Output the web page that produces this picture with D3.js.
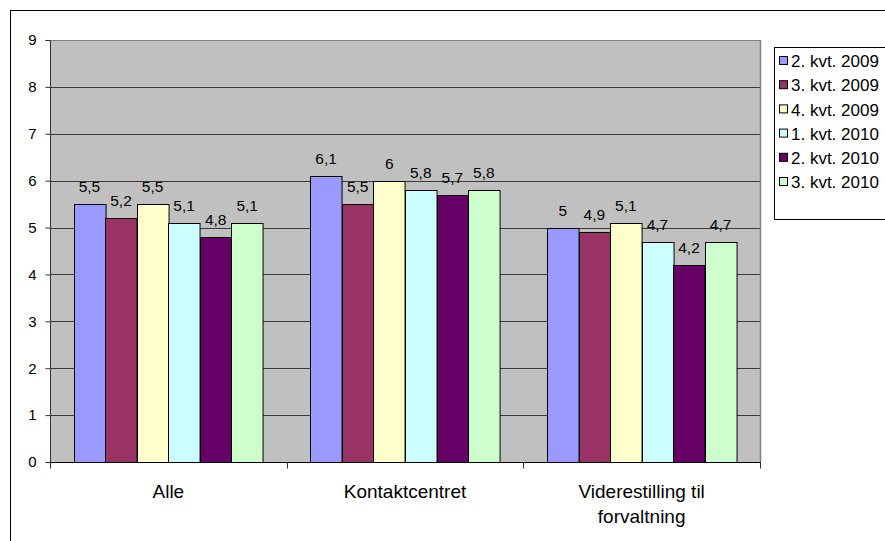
<!DOCTYPE html>
<html>
<head>
<meta charset="utf-8">
<script src="https://cdn.jsdelivr.net/npm/d3@7"></script>
<style>
html,body{margin:0;padding:0;background:#fff;}
svg{display:block;font-family:"Liberation Sans",Arial,sans-serif;}
</style>
</head>
<body>
<svg id="chart" width="885" height="541"></svg>
<script>
const categories = ["Alle", "Kontaktcentret", "Viderestilling til forvaltning"];
const categoryLines = [["Alle"], ["Kontaktcentret"], ["Viderestilling til", "forvaltning"]];
const seriesNames = ["2. kvt. 2009", "3. kvt. 2009", "4. kvt. 2009", "1. kvt. 2010", "2. kvt. 2010", "3. kvt. 2010"];
const seriesColors = ["#9999FF", "#993366", "#FFFFCC", "#CCFFFF", "#660066", "#CCFFCC"];
const values = [
  [5.5, 6.1, 5.0],
  [5.2, 5.5, 4.9],
  [5.5, 6.0, 5.1],
  [5.1, 5.8, 4.7],
  [4.8, 5.7, 4.2],
  [5.1, 5.8, 4.7]
];
const yTicks = [0, 1, 2, 3, 4, 5, 6, 7, 8, 9];

const svg = d3.select("#chart");
const plot = {left: 50, right: 760, top: 40, bottom: 462};

// outer chart frame (extends beyond picture)
svg.append("rect").attr("x", 10.5).attr("y", 10.5).attr("width", 1000).attr("height", 600)
  .attr("fill", "#fff").attr("stroke", "#000").attr("stroke-width", 1);

const x0 = d3.scaleBand().domain(categories).range([plot.left, plot.right]).paddingInner(0).paddingOuter(0);
const groupPad = 0.1;
const x1 = d3.scaleBand().domain(seriesNames)
  .range([x0.bandwidth() * groupPad, x0.bandwidth() * (1 - groupPad)]).padding(0);
const y = d3.scaleLinear().domain([0, 9]).range([plot.bottom, plot.top]);

// plot background
svg.append("rect").attr("x", plot.left).attr("y", plot.top)
  .attr("width", plot.right - plot.left).attr("height", plot.bottom - plot.top)
  .attr("fill", "#C0C0C0");

// gridlines
svg.append("g").selectAll("line").data(yTicks.filter(d => d > 0)).join("line")
  .attr("x1", plot.left).attr("x2", plot.right)
  .attr("y1", d => Math.round(y(d)) + 0.5).attr("y2", d => Math.round(y(d)) + 0.5)
  .attr("stroke", d => d === 9 ? "#808080" : "#3a3a3a").attr("stroke-width", 1);

// right border of plot
svg.append("line").attr("x1", plot.right + 0.5).attr("x2", plot.right + 0.5)
  .attr("y1", plot.top).attr("y2", plot.bottom).attr("stroke", "#808080").attr("stroke-width", 1.5);

// bars
const groups = svg.append("g").selectAll("g").data(seriesNames).join("g")
  .attr("fill", (d, i) => seriesColors[i]);
groups.each(function(s, si) {
  d3.select(this).selectAll("rect").data(values[si]).join("rect")
    .attr("x", (v, ci) => Math.round(x0(categories[ci]) + x1(s)) + 0.5)
    .attr("y", v => Math.round(y(v)) + 0.5)
    .attr("width", x1.bandwidth())
    .attr("height", v => Math.round(y(0)) - Math.round(y(v)))
    .attr("stroke", "#000").attr("stroke-width", 1);
});

// value labels
groups.each(function(s, si) {
  d3.select(this).selectAll("text").data(values[si]).join("text")
    .attr("x", (v, ci) => x0(categories[ci]) + x1(s) + x1.bandwidth() / 2)
    .attr("y", v => y(v) - 12)
    .attr("text-anchor", "middle")
    .attr("font-size", 15.5).attr("fill", "#000")
    .text(v => String(v).replace(".", ","));
});

// y axis
const yAxis = svg.append("g").attr("transform", `translate(${plot.left + 0.5},0)`)
  .call(d3.axisLeft(y).tickValues(yTicks).tickSize(5).tickPadding(9).tickFormat(d3.format("d")));
yAxis.select(".domain").attr("stroke", "#333").attr("d", `M-5,${plot.top + 0.5}H0V${plot.bottom + 0.5}`);
yAxis.selectAll(".tick line").attr("stroke", "#333");
yAxis.selectAll(".tick text").attr("font-size", 15).attr("fill", "#000").attr("font-family", "Liberation Sans, Arial, sans-serif");

// x axis
const xAxis = svg.append("g").attr("transform", `translate(0,${plot.bottom + 0.5})`)
  .call(d3.axisBottom(x0).tickSize(0).tickFormat(""));
xAxis.select(".domain").attr("stroke", "#000").attr("d", `M${plot.left},0H${plot.right + 1}`);
const bounds = [plot.left, ...categories.map(c => x0(c) + x0.bandwidth())];
xAxis.append("g").selectAll("line").data(bounds).join("line")
  .attr("x1", d => Math.round(d) + 0.5).attr("x2", d => Math.round(d) + 0.5)
  .attr("y1", 0).attr("y2", 6).attr("stroke", "#333");

// category labels
categories.forEach((c, ci) => {
  const t = svg.append("text")
    .attr("x", x0(c) + x0.bandwidth() / 2)
    .attr("y", 498)
    .attr("text-anchor", "middle").attr("font-size", 19).attr("fill", "#000");
  categoryLines[ci].forEach((line, li) => {
    t.append("tspan").attr("x", x0(c) + x0.bandwidth() / 2).attr("dy", li === 0 ? 0 : 25).text(line);
  });
});

// legend
const legend = svg.append("g");
legend.append("rect").attr("x", 774.5).attr("y", 47.5).attr("width", 200).attr("height", 172)
  .attr("fill", "#fff").attr("stroke", "#000");
const rowY = d3.scaleLinear().domain([0, 5]).range([61, 182]);
const items = legend.selectAll("g.item").data(seriesNames).join("g").attr("class", "item")
  .attr("transform", (d, i) => `translate(0,${rowY(i)})`);
items.append("rect").attr("x", 779.5).attr("y", -4.5).attr("width", 8).attr("height", 8)
  .attr("fill", (d, i) => seriesColors[i]).attr("stroke", "#000");
items.append("text").attr("x", 791).attr("y", 0).attr("dy", "0.36em")
  .attr("font-size", 17).attr("fill", "#000").text(d => d);
</script>
</body>
</html>
